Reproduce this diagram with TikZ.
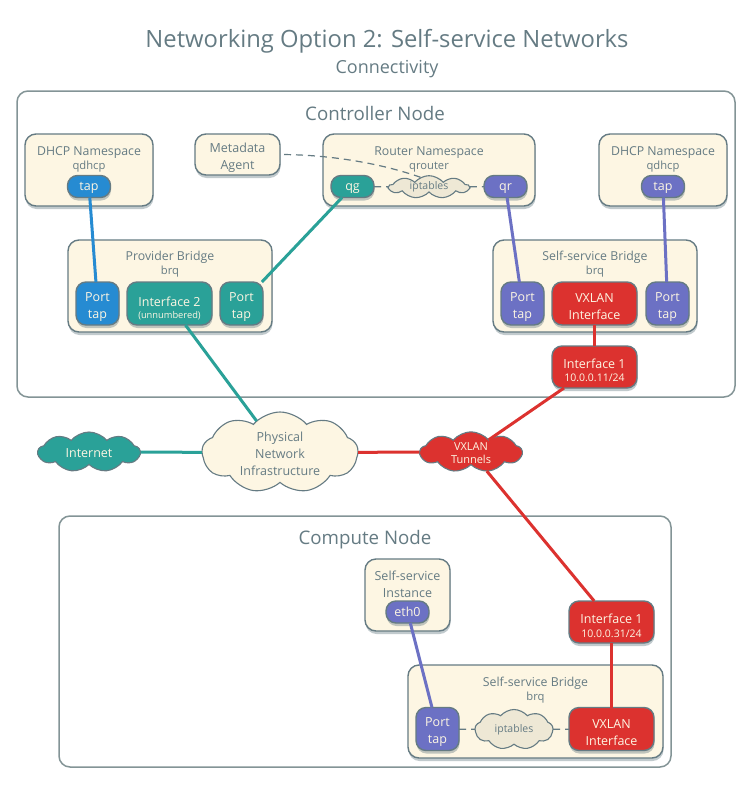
\documentclass[tikz,border=0pt]{standalone}
\usepackage{fontspec}
\setmainfont{Open Sans}
\usepackage{xcolor}
\usetikzlibrary{positioning,shadows,shapes.symbols}
\definecolor{slate}{HTML}{657B83}
\definecolor{edge}{HTML}{839496}
\definecolor{cream}{HTML}{FDF6E3}
\definecolor{sand}{HTML}{EEE8D5}
\definecolor{teal}{HTML}{2AA198}
\definecolor{azure}{HTML}{268BD2}
\definecolor{violet}{HTML}{6C71C4}
\definecolor{redd}{HTML}{DC322F}
\newcommand{\fs}[1]{\fontsize{#1}{#1}\selectfont}
\newcommand{\subtext}[1]{{\fontsize{11.2}{12}\selectfont #1}}
\newcommand{\addr}[1]{{\fontsize{10.5}{12}\selectfont #1}}
\newcommand{\topline}{\rule{0pt}{15.5pt}}

\begin{document}
\begin{tikzpicture}[
  x=1pt, y=-1pt,
  every node/.style={inner sep=0pt, outer sep=0pt},
  pane/.style={draw=edge, line width=1.5pt, fill=white, rounded corners=11pt},
  softshadow/.style={drop shadow={shadow xshift=0.5pt, shadow yshift=-3pt, opacity=.4, fill=slate}},
  box/.style={draw=slate, line width=1.4pt, fill=cream, rounded corners=11pt, softshadow},
  captext/.style={align=center, text=slate, font=\fontsize{12.3}{15}\selectfont},
  chip/.style={draw=slate, line width=1.4pt, rounded corners=10pt, softshadow, align=center, text=cream,
    font=\fontsize{12.5}{17}\selectfont, minimum height=43pt},
  pill/.style={chip, minimum width=43pt, minimum height=22pt, text height=11pt, text depth=3pt},
  puff/.style={cloud, cloud puffs=9, cloud puff arc=100, cloud ignores aspect, draw=slate, line width=1.1pt, align=center,
    font=\fontsize{12.5}{17}\selectfont},
  conn/.style={line width=3pt},
  dashline/.style={draw=slate, line width=1.2pt, dash pattern=on 7pt off 5pt}
]
\useasboundingbox (0,0) rectangle (752,787);
\node[text=slate, font=\fs{23.8}] (title) at (387,41) {Networking Option 2: Self-service Networks};
\node[text=slate, font=\fs{18}, below=7pt of title] (subtitle) {Connectivity};

\node[pane, minimum width=718pt, minimum height=306pt] (controller) at (376,244) {};
\node[text=slate, font=\fs{18.7}] (controllercap) at (375,113) {Controller Node};
\node[pane, minimum width=612pt, minimum height=251pt] (compute) at (365,641.5) {};
\node[text=slate, font=\fs{18.7}] (computecap) at (365,540) {Compute Node};

\node[box, minimum width=128pt, minimum height=72pt] (dhcpl) at (89,170) {};
\node[captext] (dhcplcap) at (89,159.5) {DHCP Namespace\\[-1pt]\subtext{qdhcp}};
\node[pill, fill=azure] (tapl) at (89,186.5) {tap};
\node[box, minimum width=85pt, minimum height=41pt, align=center, text=slate, font=\fontsize{12.5}{17}\selectfont] (meta) at (237.5,154.5) {\topline Metadata\\Agent};
\node[box, minimum width=212pt, minimum height=72pt] (router) at (429,170) {};
\node[captext] (routercap) at (429,159.5) {Router Namespace\\[-1pt]\subtext{qrouter}};
\node[pill, fill=teal] (qg) at (352.5,186.5) {qg};
\node[puff, fill=sand, text=slate, minimum width=80pt, minimum height=21pt, font=\fs{10.5}] (ipr) at (429,187) {iptables};
\node[pill, fill=violet] (qr) at (505.5,186.5) {qr};
\node[box, minimum width=128pt, minimum height=72pt] (dhcpr) at (663,170) {};
\node[captext] (dhcprcap) at (663,159.5) {DHCP Namespace\\[-1pt]\subtext{qdhcp}};
\node[pill, fill=violet] (tapr) at (663,186.5) {tap};

\node[box, minimum width=204pt, minimum height=92pt] (provider) at (170,286) {};
\node[captext] (providercap) at (170,264) {Provider Bridge\\[-1pt]\subtext{brq}};
\node[chip, fill=azure, minimum width=43pt] (ppa) at (97.5,303.5) {\topline Port\\tap};
\node[chip, fill=teal, minimum width=85pt, right=8pt of ppa] (if2) {\rule{0pt}{19pt}Interface 2\\[-4.5pt]{\fontsize{9.3}{12}\selectfont (unnumbered)}};
\node[chip, fill=teal, minimum width=43pt, right=8pt of if2] (ppb) {\topline Port\\tap};

\node[box, minimum width=204pt, minimum height=92pt] (selfc) at (595,286) {};
\node[captext] (selfccap) at (595,264) {Self-service Bridge\\[-1pt]\subtext{brq}};
\node[chip, fill=violet, minimum width=43pt] (psa) at (522.5,303.5) {\topline Port\\tap};
\node[chip, fill=redd, minimum width=85pt, right=8pt of psa] (vxc) {\topline VXLAN\\Interface};
\node[chip, fill=violet, minimum width=43pt, right=9pt of vxc] (psb) {\topline Port\\tap};
\node[chip, fill=redd, minimum width=85pt, minimum height=42pt, below=21pt of vxc] (ifc) {\rule{0pt}{16pt}Interface 1\\[-3.5pt]\addr{10.0.0.11/24}};

\node[puff, fill=teal, text=cream, minimum width=102pt, minimum height=40pt] (internet) at (89,452) {\rule{0pt}{11pt}Internet};
\node[puff, fill=cream, text=slate, minimum width=156pt, minimum height=81pt] (phys) at (280,452.5) {\rule{0pt}{12.5pt}Physical\\Network\\Infrastructure};
\node[puff, fill=redd, text=cream, minimum width=102pt, minimum height=40pt, font=\fontsize{11}{13}\selectfont] (tunnels) at (471,452) {\rule{0pt}{10.5pt}VXLAN\\Tunnels};

\node[box, minimum width=85pt, minimum height=72pt] (inst) at (407.5,595) {};
\node[captext, font=\fontsize{12.5}{17}\selectfont] (instcap) at (407.5,584.5) {Self-service\\Instance};
\node[pill, fill=violet] (eth) at (407.5,612) {eth0};
\node[chip, fill=redd, minimum width=85pt, minimum height=42pt] (ifs) at (611.5,622) {\rule{0pt}{17pt}Interface 1\\[-3.5pt]\addr{10.0.0.31/24}};
\node[box, minimum width=255pt, minimum height=93pt] (selfs) at (535.5,711.5) {};
\node[captext] (selfscap) at (535.5,690.5) {Self-service Bridge\\[-1pt]\subtext{brq}};
\node[chip, fill=violet, minimum width=43pt] (pc) at (437.5,729) {\topline Port\\tap};
\node[puff, fill=sand, text=slate, minimum width=78pt, minimum height=40pt, font=\fs{10.5}] (ips) at (514,729.5) {iptables};
\node[chip, fill=redd, minimum width=85pt] (vxs) at (611.5,729) {\topline VXLAN\\Interface};

\draw[conn, azure] (tapl) -- (ppa);
\draw[conn, teal] (qg) -- (ppb);
\draw[conn, teal] (if2) -- (phys);
\draw[conn, violet] (qr) -- (psa);
\draw[conn, violet] (tapr) -- (psb);
\draw[conn, redd] (vxc) -- (ifc);
\draw[conn, redd] (ifc) -- (tunnels);
\draw[conn, redd] (tunnels) -- (ifs);
\draw[conn, teal] (internet) -- (phys);
\draw[conn, redd] (phys) -- (tunnels);
\draw[conn, violet] (eth) -- (pc);
\draw[conn, redd] (ifs) -- (vxs);
\draw[dashline] (qg) -- (ipr);
\draw[dashline] (ipr) -- (qr);
\draw[dashline] (pc) -- (ips);
\draw[dashline] (ips) -- (vxs);
\draw[dashline, shorten <=4pt] (meta.east) .. controls (330,155) and (380,163) .. (ipr.130);
\end{tikzpicture}
\end{document}
